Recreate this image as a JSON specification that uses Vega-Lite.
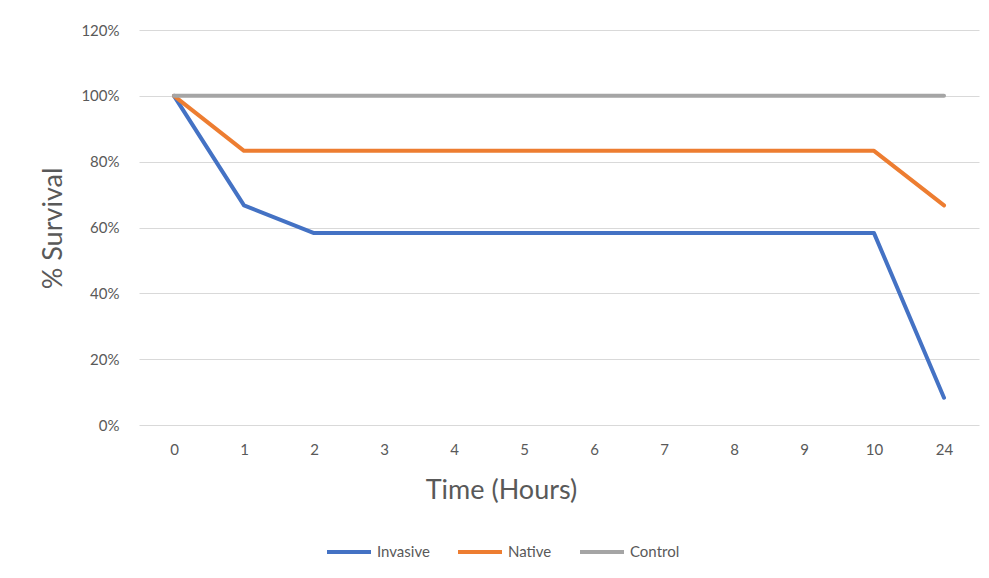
{
  "$schema": "https://vega.github.io/schema/vega-lite/v6.json",
  "width": 840,
  "height": 395,
  "autosize": {"type": "none"},
  "padding": {"left": 139, "top": 30, "right": 10, "bottom": 153},
  "background": "white",
  "config": {
    "font": "Lato",
    "view": {"stroke": null},
    "axis": {"labelColor": "#595959", "titleColor": "#595959", "labelFont": "Lato", "titleFont": "Lato", "titleFontWeight": "normal"},
    "legend": {"labelColor": "#595959", "labelFont": "Lato"}
  },
  "data": {
    "values": [
      {"Time": "0", "Series": "Invasive", "Survival": 1.0},
      {"Time": "1", "Series": "Invasive", "Survival": 0.667},
      {"Time": "2", "Series": "Invasive", "Survival": 0.583},
      {"Time": "3", "Series": "Invasive", "Survival": 0.583},
      {"Time": "4", "Series": "Invasive", "Survival": 0.583},
      {"Time": "5", "Series": "Invasive", "Survival": 0.583},
      {"Time": "6", "Series": "Invasive", "Survival": 0.583},
      {"Time": "7", "Series": "Invasive", "Survival": 0.583},
      {"Time": "8", "Series": "Invasive", "Survival": 0.583},
      {"Time": "9", "Series": "Invasive", "Survival": 0.583},
      {"Time": "10", "Series": "Invasive", "Survival": 0.583},
      {"Time": "24", "Series": "Invasive", "Survival": 0.083},
      {"Time": "0", "Series": "Native", "Survival": 1.0},
      {"Time": "1", "Series": "Native", "Survival": 0.833},
      {"Time": "2", "Series": "Native", "Survival": 0.833},
      {"Time": "3", "Series": "Native", "Survival": 0.833},
      {"Time": "4", "Series": "Native", "Survival": 0.833},
      {"Time": "5", "Series": "Native", "Survival": 0.833},
      {"Time": "6", "Series": "Native", "Survival": 0.833},
      {"Time": "7", "Series": "Native", "Survival": 0.833},
      {"Time": "8", "Series": "Native", "Survival": 0.833},
      {"Time": "9", "Series": "Native", "Survival": 0.833},
      {"Time": "10", "Series": "Native", "Survival": 0.833},
      {"Time": "24", "Series": "Native", "Survival": 0.667},
      {"Time": "0", "Series": "Control", "Survival": 1.0},
      {"Time": "1", "Series": "Control", "Survival": 1.0},
      {"Time": "2", "Series": "Control", "Survival": 1.0},
      {"Time": "3", "Series": "Control", "Survival": 1.0},
      {"Time": "4", "Series": "Control", "Survival": 1.0},
      {"Time": "5", "Series": "Control", "Survival": 1.0},
      {"Time": "6", "Series": "Control", "Survival": 1.0},
      {"Time": "7", "Series": "Control", "Survival": 1.0},
      {"Time": "8", "Series": "Control", "Survival": 1.0},
      {"Time": "9", "Series": "Control", "Survival": 1.0},
      {"Time": "10", "Series": "Control", "Survival": 1.0},
      {"Time": "24", "Series": "Control", "Survival": 1.0}
    ]
  },
  "mark": {"type": "line", "strokeWidth": 4, "strokeCap": "round", "strokeJoin": "round"},
  "encoding": {
    "x": {
      "field": "Time",
      "type": "ordinal",
      "sort": ["0", "1", "2", "3", "4", "5", "6", "7", "8", "9", "10", "24"],
      "scale": {"type": "point", "padding": 0.5},
      "axis": {
        "title": "Time (Hours)",
        "labelAngle": 0,
        "labelFontSize": 15,
        "labelPadding": 17,
        "ticks": false,
        "domain": false,
        "grid": false,
        "titleFontSize": 27,
        "titleX": 362,
        "titleY": 65,
        "titleAlign": "center",
        "titleBaseline": "middle"
      }
    },
    "y": {
      "field": "Survival",
      "type": "quantitative",
      "scale": {"domain": [0, 1.2], "nice": false},
      "axis": {
        "title": "% Survival",
        "format": ".0%",
        "values": [0, 0.2, 0.4, 0.6, 0.8, 1.0, 1.2],
        "labelFontSize": 15,
        "labelPadding": 20,
        "ticks": false,
        "domain": false,
        "gridColor": "#D9D9D9",
        "gridWidth": 1.2,
        "titleFontSize": 27,
        "titleAngle": -90,
        "titleX": -86,
        "titleY": 198,
        "titleAlign": "center",
        "titleBaseline": "middle"
      }
    },
    "color": {
      "field": "Series",
      "type": "nominal",
      "sort": ["Invasive", "Native", "Control"],
      "scale": {"domain": ["Invasive", "Native", "Control"], "range": ["#4472C4", "#ED7D31", "#A5A5A5"]},
      "legend": {
        "title": null,
        "orient": "none",
        "direction": "horizontal",
        "legendX": 186,
        "legendY": 498,
        "symbolType": "stroke",
        "symbolSize": 1936,
        "symbolStrokeWidth": 4,
        "labelFontSize": 15,
        "labelOffset": 4,
        "columnPadding": 20
      }
    }
  }
}
